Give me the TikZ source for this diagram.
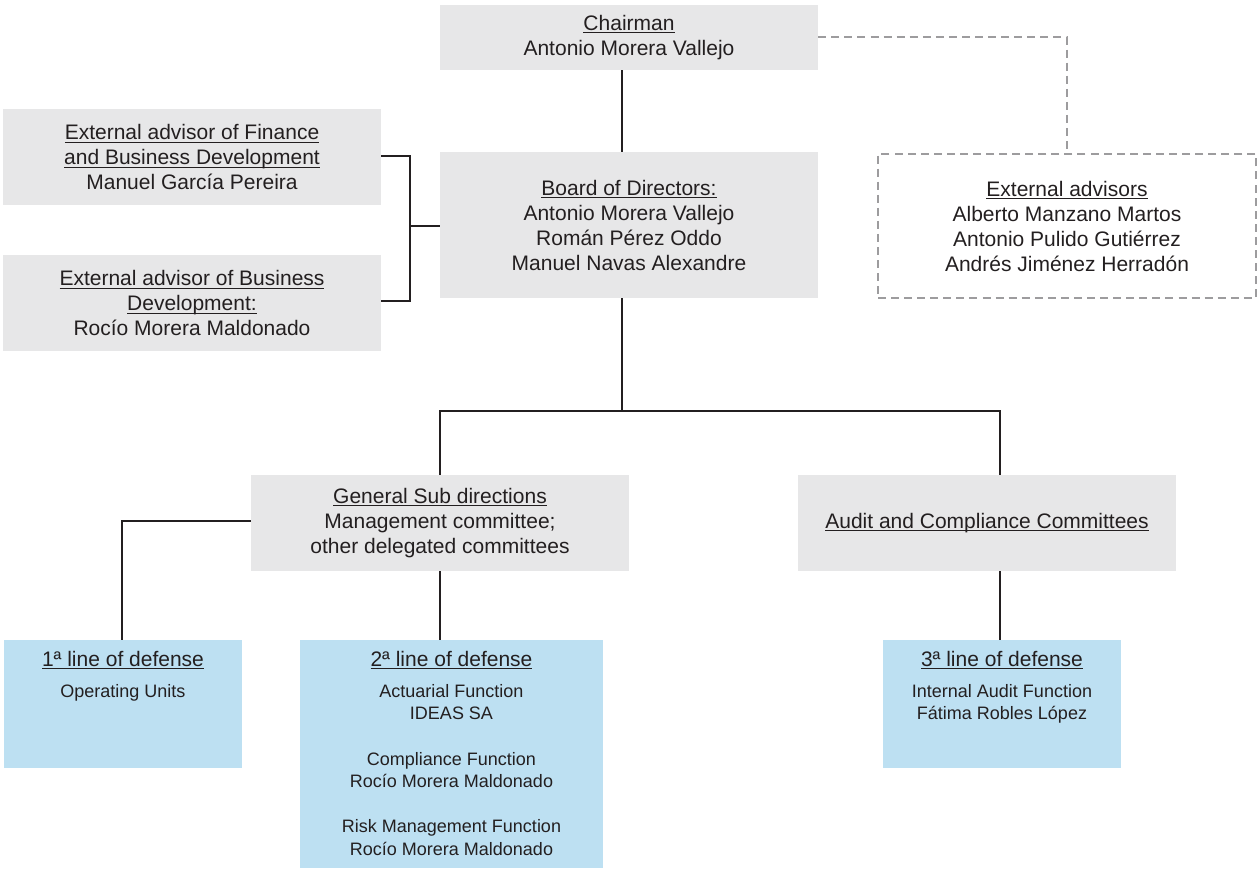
\documentclass[tikz,border=0pt]{standalone}
\usepackage{fontspec}
\setmainfont{Liberation Sans}
\newcommand\ulx[1]{\leavevmode\setbox0\hbox{#1}\rlap{\rule[-2.3pt]{\wd0}{0.8pt}}\box0}
\definecolor{boxgray}{HTML}{E7E7E8}
\definecolor{boxblue}{HTML}{BDE0F2}
\definecolor{linedark}{HTML}{231F20}
\definecolor{dashgray}{HTML}{9D9C9E}
\definecolor{txt}{HTML}{231F20}
\begin{document}
\begin{tikzpicture}[x=0.75pt,y=-0.75pt,
  graybox/.style={fill=boxgray,draw=none,inner sep=0pt,text=txt,align=center,
    font=\fontsize{15.75}{18.75}\selectfont},
  bluebox/.style={fill=boxblue,draw=none,inner sep=0pt},
  bluetext/.style={anchor=north,inner sep=0pt,text=txt,align=center,
    font=\fontsize{13.5}{16.9}\selectfont},
  conn/.style={draw=linedark,line width=1.5pt},
  dconn/.style={draw=dashgray,line width=1.6pt,dash pattern=on 6pt off 3.8pt}]
\useasboundingbox (0,0) rectangle (1257,870);

% gray boxes
\node[graybox,minimum width=378*0.75pt,minimum height=65*0.75pt] (chair) at (629,37.5)
  {\ulx{Chairman}\\Antonio Morera Vallejo};
\node[graybox,minimum width=378*0.75pt,minimum height=96*0.75pt] (fin) at (192,157)
  {\ulx{External advisor of Finance}\\\ulx{and Business Development}\\Manuel García Pereira};
\node[graybox,minimum width=378*0.75pt,minimum height=96*0.75pt] (bus) at (192,303)
  {\ulx{External advisor of Business}\\\ulx{Development:}\\Rocío Morera Maldonado};
\node[graybox,minimum width=378*0.75pt,minimum height=146*0.75pt] (board) at (629,225)
  {\ulx{Board of Directors:}\\Antonio Morera Vallejo\\Román Pérez Oddo\\Manuel Navas Alexandre};
\node[graybox,fill=none,draw=dashgray,line width=1.6pt,dash pattern=on 6pt off 3.8pt,
  minimum width=378*0.75pt,minimum height=144*0.75pt] (ext) at (1067,226)
  {\ulx{External advisors}\\Alberto Manzano Martos\\Antonio Pulido Gutiérrez\\Andrés Jiménez Herradón};
\node[graybox,minimum width=378*0.75pt,minimum height=96*0.75pt] (gen) at (440,523)
  {\ulx{General Sub directions}\\Management committee;\\other delegated committees};
\node[graybox,minimum width=378*0.75pt,minimum height=96*0.75pt] (aud) at (987,523)
  {\ulx{Audit and Compliance Committees}};

% blue boxes
\node[bluebox,minimum width=238*0.75pt,minimum height=128*0.75pt] (l1) at (123,704) {};
\node[bluebox,minimum width=303*0.75pt,minimum height=228*0.75pt] (l2) at (451.5,754) {};
\node[bluebox,minimum width=238*0.75pt,minimum height=128*0.75pt] (l3) at (1002,704) {};

\node[bluetext] (l1t) at ([yshift=-11*0.75pt]l1.north)
  {{\fontsize{15.75}{18.75}\selectfont\ulx{1ª line of defense}}\\[6.5pt]Operating Units};
\node[bluetext] (l2t) at ([yshift=-11*0.75pt]l2.north)
  {{\fontsize{15.75}{18.75}\selectfont\ulx{2ª line of defense}}\\[6.5pt]Actuarial Function\\IDEAS SA\\[16.9pt]Compliance Function\\Rocío Morera Maldonado\\[16.9pt]Risk Management Function\\Rocío Morera Maldonado};
\node[bluetext] (l3t) at ([yshift=-11*0.75pt]l3.north)
  {{\fontsize{15.75}{18.75}\selectfont\ulx{3ª line of defense}}\\[6.5pt]Internal Audit Function\\Fátima Robles López};

% connectors
\coordinate (brk) at (410,226);
\draw[conn] (chair.south -| 622,0) -- (board.north -| 622,0);
\draw[conn] (fin.east |- 0,156) -| (brk) |- (bus.east |- 0,301);
\draw[conn] (brk) -- (board.west |- brk);
\draw[dconn] (chair.east |- 0,37) -| (ext.north);
\coordinate (split) at (622,411);
\draw[conn] (board.south -| split) -- (split);
\draw[conn] (gen.north) |- (split) -| (aud.north -| 1000,0);
\draw[conn] (gen.west |- 0,521) -| (l1.north -| 122,0);
\draw[conn] (gen.south) -- (l2.north -| gen.south);
\draw[conn] (aud.south -| 1000,0) -- (l3.north -| 1000,0);
\end{tikzpicture}
\end{document}
